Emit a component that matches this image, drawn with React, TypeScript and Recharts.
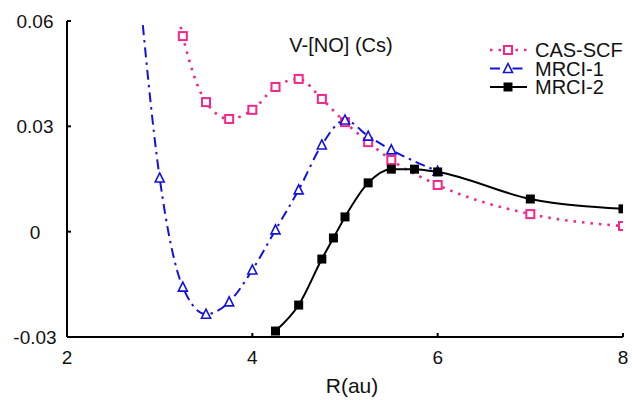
import { Line, LineChart, XAxis, YAxis } from 'recharts';

const PINK = '#f0288a';
const BLUE = '#1212e0';
const FONT = '"Liberation Sans", Arial, sans-serif';

// R (au) values per series; the first points of CAS-SCF and MRCI-1 lie above the frame
const casR = [3.1, 3.25, 3.5, 3.75, 4.0, 4.25, 4.5, 4.75, 5.0, 5.25, 5.5, 6.0, 7.0, 8.0];
const casV = [0.075, 0.0557, 0.0369, 0.0321, 0.0347, 0.0412, 0.0435, 0.0378, 0.0312, 0.0255, 0.0204, 0.0133, 0.005, 0.0016];

const mrci1R = [2.75, 3.0, 3.25, 3.5, 3.75, 4.0, 4.25, 4.5, 4.75, 5.0, 5.25, 5.5, 6.0];
const mrci1V = [0.078, 0.0153, -0.0158, -0.0235, -0.02, -0.0109, 0.0005, 0.0119, 0.0247, 0.0318, 0.0272, 0.0233, 0.0172];

const mrci2R = [4.25, 4.5, 4.75, 4.875, 5.0, 5.25, 5.5, 5.75, 6.0, 7.0, 8.0];
const mrci2V = [-0.0283, -0.0209, -0.0078, -0.0018, 0.0042, 0.0139, 0.0178, 0.0178, 0.017, 0.0093, 0.0065];

const xTicks = [2, 4, 6, 8];
const yTicks = [-0.03, 0, 0.03, 0.06];
const seriesNames = ['CAS-SCF', 'MRCI-1', 'MRCI-2'];

const toRows = (rs: number[], vs: number[]) => rs.map((r, i) => ({ r, v: vs[i] }));
const casData = toRows(casR, casV);
const mrci1Data = toRows(mrci1R, mrci1V);
const mrci2Data = toRows(mrci2R, mrci2V);

const OpenSquare = ({ cx, cy }: { cx: number; cy: number }) => (
  <rect x={cx - 4} y={cy - 4} width={8} height={8} fill="#fff" stroke={PINK} strokeWidth={2} />
);
const OpenTriangle = ({ cx, cy }: { cx: number; cy: number }) => (
  <path d={`M${cx},${cy - 5} L${cx + 4.5},${cy + 4} L${cx - 4.5},${cy + 4} Z`} fill="#fff" stroke={BLUE} strokeWidth={1.6} />
);
const FilledSquare = ({ cx, cy }: { cx: number; cy: number }) => (
  <rect x={cx - 4.5} y={cy - 4.5} width={9} height={9} fill="#000" />
);

const markers = [OpenSquare, OpenTriangle, FilledSquare];
const colors = [PINK, BLUE, '#000'];
const dashes = ['2.5 6', '10 5 2.5 5', undefined];

const yLabel = (v: number) => (v === 0 ? '0' : v.toFixed(2));

const YTick = (p: any) => {
  const ax = p.x + 6;
  return (
    <g>
      <line x1={ax} x2={ax + 4} y1={p.y} y2={p.y} stroke="#000" strokeWidth={2} />
      <text x={ax - 32} y={p.y + 7} textAnchor="middle" fontSize={19} fontFamily={FONT} fill="#111">
        {yLabel(p.payload.value)}
      </text>
    </g>
  );
};

const XTick = (p: any) => {
  const ay = p.y - 6;
  return (
    <g>
      <line x1={p.x} x2={p.x} y1={ay} y2={ay - 4} stroke="#000" strokeWidth={2} />
      <text x={p.x} y={ay + 27} textAnchor="middle" fontSize={19} fontFamily={FONT} fill="#111">
        {p.payload.value}
      </text>
    </g>
  );
};

export default function App() {
  return (
    <div style={{ position: 'absolute', left: 0, top: 0, background: '#fff' }}>
      <LineChart width={632} height={400} margin={{ top: 21, right: 9, left: 7, bottom: 33 }}>
        <XAxis
          type="number"
          dataKey="r"
          domain={[2, 8]}
          ticks={xTicks}
          allowDataOverflow
          tickSize={0}
          tickMargin={6}
          tickLine={false}
          tick={<XTick />}
          axisLine={{ stroke: '#000', strokeWidth: 2 }}
          height={30}
        />
        <YAxis
          type="number"
          dataKey="v"
          domain={[-0.03, 0.06]}
          ticks={yTicks}
          allowDataOverflow
          tickSize={0}
          tickMargin={6}
          tickLine={false}
          tick={<YTick />}
          axisLine={{ stroke: '#000', strokeWidth: 2 }}
          width={60}
        />
        {[casData, mrci1Data, mrci2Data].map((d, i) => {
          const M = markers[i];
          return (
            <Line
              key={seriesNames[i]}
              data={d}
              dataKey="v"
              name={seriesNames[i]}
              type="monotone"
              stroke={colors[i]}
              strokeWidth={i === 0 ? 2.6 : 2}
              strokeDasharray={dashes[i]}
              dot={(p: any) => <M key={p.index} cx={p.cx} cy={p.cy} />}
              isAnimationActive={false}
            />
          );
        })}
        <text x={341} y={52} textAnchor="middle" fontSize={20} fontFamily={FONT} fill="#111">
          V-[NO] (Cs)
        </text>
        <text x={352} y={393} textAnchor="middle" fontSize={21} fontFamily={FONT} fill="#111">
          R(au)
        </text>
        {seriesNames.map((n, i) => {
          const M = markers[i];
          const cy = 50 + i * 18.5;
          return (
            <g key={n}>
              <line x1={490} x2={527} y1={cy} y2={cy} stroke={colors[i]} strokeWidth={i === 0 ? 2.6 : 2} strokeDasharray={dashes[i]} />
              <M cx={508} cy={cy} />
              <text x={535} y={cy + 7} fontSize={20} fontFamily={FONT} fill="#111">
                {n}
              </text>
            </g>
          );
        })}
      </LineChart>
    </div>
  );
}
